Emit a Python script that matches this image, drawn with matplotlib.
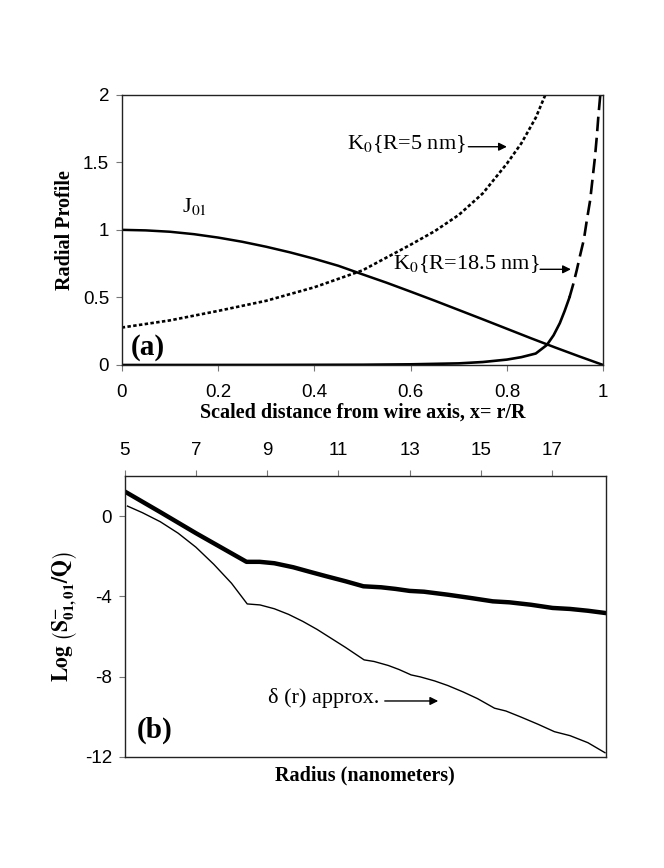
import matplotlib
matplotlib.use("Agg")
import matplotlib.pyplot as plt

# ---------------- data ----------------
# panel (a): radial profiles vs scaled distance x = r/R
j01_x = [0.0, 0.05, 0.1, 0.15, 0.2, 0.25, 0.3, 0.35, 0.4, 0.45, 0.5,
         0.55, 0.6, 0.65, 0.7, 0.75, 0.8, 0.85, 0.9, 0.95, 1.0]
j01_y = [1.0, 0.996, 0.986, 0.968, 0.943, 0.912, 0.875, 0.833, 0.786, 0.734, 0.671,
         0.609, 0.543, 0.476, 0.407, 0.338, 0.268, 0.198, 0.130, 0.064, 0.0]

k5_x = [0.0, 0.1, 0.2, 0.3, 0.4, 0.5, 0.6, 0.65, 0.7, 0.75, 0.8, 0.83, 0.86, 0.88]
k5_y = [0.277, 0.33, 0.40, 0.475, 0.575, 0.70, 0.89, 0.99, 1.11, 1.27, 1.49, 1.64, 1.83, 2.0]

k185_x = [0.0, 0.3, 0.5, 0.6, 0.7, 0.75, 0.8, 0.83, 0.86, 0.883, 0.897, 0.91, 0.92,
          0.93, 0.938, 0.945, 0.952, 0.96, 0.966, 0.973, 0.978, 0.983, 0.987,
          0.99, 0.994]
k185_y = [0.0, 0.0005, 0.002, 0.005, 0.012, 0.022, 0.04, 0.058, 0.085, 0.148, 0.22, 0.31,
          0.40, 0.50, 0.60, 0.70, 0.81, 0.93, 1.07, 1.22, 1.38, 1.54, 1.70,
          1.84, 2.0]

# panel (b): log(S/Q) vs radius (nm)
thick_r = [5.06, 6.0, 7.0, 8.42, 8.79, 9.2, 9.73, 10.2, 10.66, 11.2, 11.7,
           12.2, 12.6, 13.0, 13.4, 14.07, 14.7, 15.33, 15.8, 16.4, 17.01,
           17.5, 18.0, 18.48]
thick_s = [1.17, 0.2, -0.85, -2.28, -2.28, -2.35, -2.55, -2.78, -3.0, -3.25, -3.5,
           -3.55, -3.63, -3.73, -3.77, -3.92, -4.08, -4.25, -4.3, -4.42, -4.58,
           -4.63, -4.72, -4.83]

thin_r = [5.08, 5.5, 6.0, 6.5, 7.0, 7.5, 8.0, 8.44,
          8.8, 9.2, 9.6, 10.0, 10.4, 10.8, 11.2, 11.72,
          12.0, 12.4, 12.7, 13.04,
          13.3, 13.7, 14.07, 14.5, 14.9, 15.38,
          15.7, 16.12, 16.6, 17.06,
          17.5, 18.0, 18.48]
thin_s = [0.5, 0.17, -0.28, -0.85, -1.55, -2.4, -3.35, -4.38,
          -4.43, -4.62, -4.9, -5.25, -5.65, -6.1, -6.55, -7.17,
          -7.25, -7.45, -7.65, -7.92,
          -8.02, -8.22, -8.45, -8.77, -9.1, -9.58,
          -9.72, -10.02, -10.38, -10.75,
          -10.95, -11.3, -11.8]

top_xticks = [0, 0.2, 0.4, 0.6, 0.8, 1]
top_xticklabels = ["0", "0.2", "0.4", "0.6", "0.8", "1"]
top_yticks = [0, 0.5, 1, 1.5, 2]
top_yticklabels = ["0", "0.5", "1", "1.5", "2"]
bot_xticks = [5, 7, 9, 11, 13, 15, 17]
bot_yticks = [0, -4, -8, -12]

# ---------------- style ----------------
plt.rcParams["mathtext.fontset"] = "stix"
SANS = ["Liberation Sans", "DejaVu Sans"]
SERIF = ["Liberation Serif", "DejaVu Serif"]
TICKFS = 13.5
LABFS = 14.5
ANNFS = 16

fig = plt.figure(figsize=(6.64, 8.68), dpi=100)

# ---------------- panel (a) ----------------
ax1 = fig.add_axes([0.1833, 0.5795, 0.7251, 0.3114])
ax1.plot(j01_x, j01_y, color="black", lw=1.8, solid_capstyle="butt")
ax1.plot(k5_x, k5_y, color="black", lw=1.9, linestyle=(0, (1.3, 0.9)))
split = k185_x.index(0.93)
ax1.plot(k185_x[:split + 1], k185_y[:split + 1], color="black", lw=1.9)
ax1.plot(k185_x[split:], k185_y[split:], color="black", lw=1.9,
         linestyle=(0, (5.5, 2.5)))
ax1.set_xlim(0, 1)
ax1.set_ylim(0, 2)
ax1.set_xticks(top_xticks)
ax1.set_xticklabels(top_xticklabels, family=SANS, fontsize=TICKFS)
ax1.set_yticks(top_yticks)
ax1.set_yticklabels(top_yticklabels, family=SANS, fontsize=TICKFS)
ax1.tick_params(direction="out", length=4, width=0.8, color="#777777", pad=5)
ax1.tick_params(axis="x", pad=10)
for s in ax1.spines.values():
    s.set_linewidth(1.0)
    s.set_color("#222222")
ax1.set_xlabel("Scaled distance from wire axis, x= r/R", family=SERIF,
               fontweight="bold", fontsize=LABFS, labelpad=1)
ax1.set_ylabel("Radial Profile", family=SERIF, fontweight="bold",
               fontsize=LABFS, labelpad=6)

ax1.text(0.125, 1.17, r"J$_{01}$", family=SERIF, fontsize=ANNFS, ha="left", va="center")
ax1.text(0.019, 0.13, "(a)", family=SERIF, fontweight="bold", fontsize=21,
         ha="left", va="center")
ax1.text(0.467, 1.635, r"K$_0${R=5 nm}", family=SERIF, fontsize=ANNFS,
         ha="left", va="center")
ax1.annotate("", xy=(0.80, 1.615), xytext=(0.72, 1.615),
             arrowprops=dict(arrowstyle="-|>", color="black", lw=1.0,
                             mutation_scale=12, shrinkA=0, shrinkB=0))
ax1.text(0.564, 0.747, r"K$_0${R=18.5 nm}", family=SERIF, fontsize=ANNFS,
         ha="left", va="center")
ax1.annotate("", xy=(0.933, 0.708), xytext=(0.869, 0.708),
             arrowprops=dict(arrowstyle="-|>", color="black", lw=1.0,
                             mutation_scale=12, shrinkA=0, shrinkB=0))

# ---------------- panel (b) ----------------
ax2 = fig.add_axes([0.1877, 0.1282, 0.7245, 0.3234])
ax2.plot(thick_r, thick_s, color="black", lw=3.2, solid_joinstyle="round")
ax2.plot(thin_r, thin_s, color="black", lw=1.0)
ax2.set_xlim(5, 18.5)
ax2.set_ylim(-12, 2)
ax2.xaxis.tick_top()
ax2.set_xticks(bot_xticks)
ax2.set_xticklabels([str(v) for v in bot_xticks], family=SANS, fontsize=TICKFS)
ax2.set_yticks(bot_yticks)
ax2.set_yticklabels([str(v) for v in bot_yticks], family=SANS, fontsize=TICKFS)
ax2.tick_params(direction="out", length=4, width=0.8, color="#777777", pad=5)
ax2.tick_params(axis="x", pad=8)
for s in ax2.spines.values():
    s.set_linewidth(1.0)
    s.set_color("#222222")
ax2.set_xlabel("Radius (nanometers)", family=SERIF, fontweight="bold",
               fontsize=LABFS, labelpad=6)
ax2.xaxis.set_label_position("bottom")
ax2.set_ylabel(r"$\mathbf{Log}\ \left(\mathbf{S}^{\mathbf{-}}_{\mathbf{01,01}}\mathbf{/Q}\right)$",
               fontsize=LABFS + 1, labelpad=4)

ax2.text(5.34, -10.67, "(b)", family=SERIF, fontweight="bold", fontsize=21,
         ha="left", va="center")
ax2.text(9.02, -9.07, "δ (r) approx.", family=SERIF, fontsize=ANNFS,
         ha="left", va="center")
ax2.annotate("", xy=(13.8, -9.22), xytext=(12.3, -9.22),
             arrowprops=dict(arrowstyle="-|>", color="black", lw=1.0,
                             mutation_scale=12, shrinkA=0, shrinkB=0))

fig.savefig("out.png", dpi=100, facecolor="white")
